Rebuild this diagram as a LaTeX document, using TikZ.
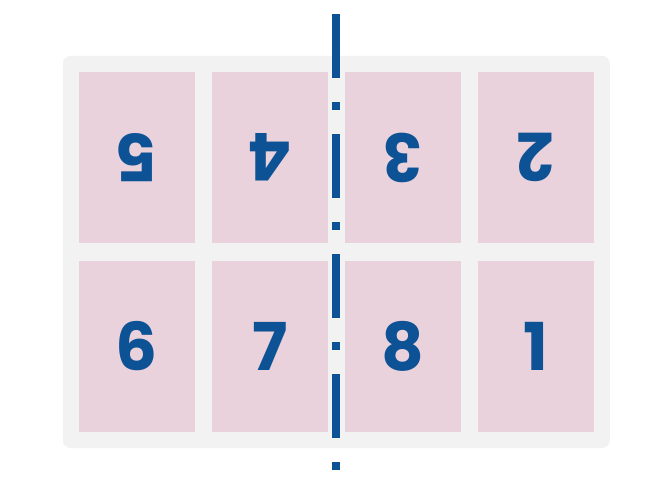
\documentclass[tikz,border=0pt]{standalone}
\usepackage{fontspec}
\usepackage{graphicx}
\newfontfamily\digitfont{Poppins}
\usetikzlibrary{fit,calc,positioning}
\definecolor{pageColor}{RGB}{234,210,220}
\definecolor{sheetColor}{RGB}{242,242,242}
\definecolor{foldColor}{RGB}{13,82,149}
\tikzset{page/.style={fill=pageColor, draw=none, minimum width=116pt, minimum height=171pt, inner sep=0pt, text=foldColor, font=\digitfont\bfseries\fontsize{66}{66}\selectfont}}
\newcommand{\upsidedown}[1]{\rotatebox[origin=c]{180}{#1}}

\begin{document}
\begin{tikzpicture}[x=1pt, y=1pt, node distance=17.5pt and 16.5pt]
\useasboundingbox (0,0) rectangle (670,500);
% Nodes
\pgfdeclarelayer{background}
\pgfsetlayers{background,main}

\node (p5) [page] at (137,342.5) {\upsidedown{5}};
\node (p4) [page, right=of p5] {\upsidedown{4}};
\node (p3) [page, right=of p4] {\upsidedown{3}};
\node (p2) [page, right=of p3] {\upsidedown{2}};
\node (p6) [page, below=of p5] {6};
\node (p7) [page, right=of p6] {7};
\node (p8) [page, right=of p7] {8};
\node (p1) [page, right=of p8] {1};

\begin{pgfonlayer}{background}
\node (sheet) [fill=sheetColor, rounded corners=8pt, inner sep=16pt, fit=(p5) (p1)] {};
\end{pgfonlayer}

% Fold line
\coordinate (foldtop) at (336,486);
\coordinate (foldbot) at (336,30);
\draw [foldColor, line width=8pt, dash pattern=on 64pt off 24pt on 8pt off 24pt] (foldtop) -- (foldbot);

\end{tikzpicture}
\end{document}
